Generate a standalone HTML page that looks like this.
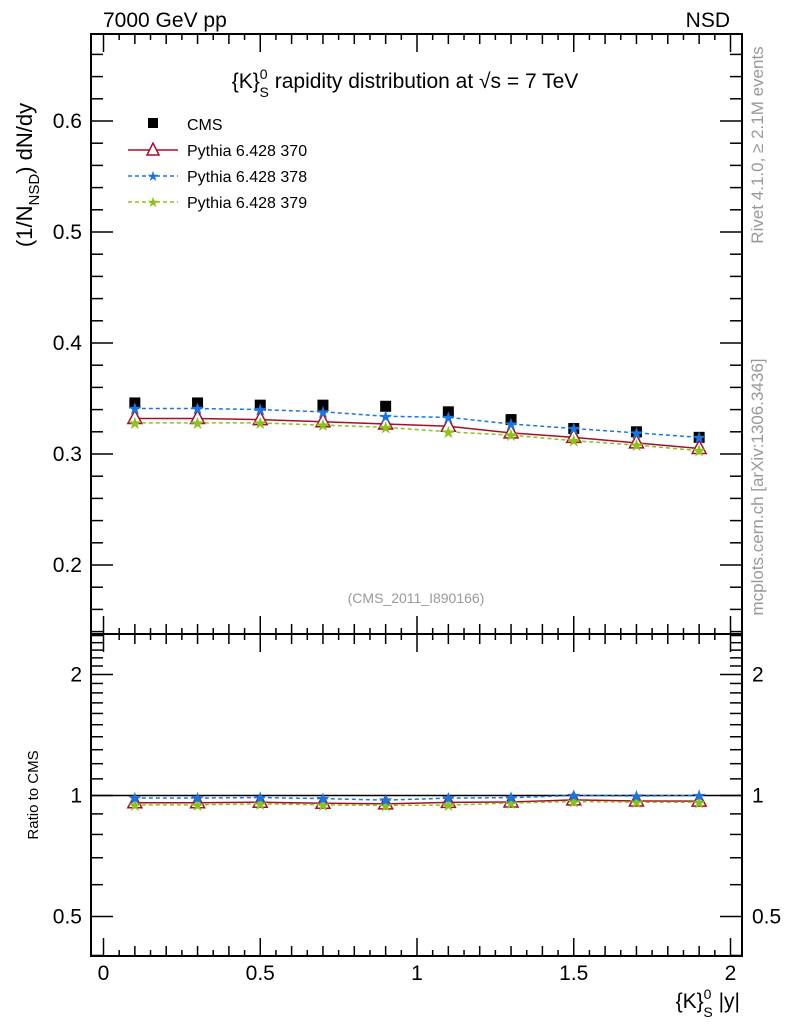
<!DOCTYPE html>
<html><head><meta charset="utf-8"><style>
body{margin:0;background:#fff;}
svg text{font-family:"Liberation Sans",sans-serif;}
</style></head><body>
<svg id="c" width="786" height="1024" xmlns="http://www.w3.org/2000/svg">
<text x="103" y="27" font-size="21">7000 GeV pp</text>
<text x="730" y="27" font-size="21" text-anchor="end">NSD</text>
<text x="405" y="88" font-size="21" text-anchor="middle">{K}<tspan font-size="14" dy="-9">0</tspan><tspan font-size="14" dx="-8" dy="18">S</tspan><tspan dy="-9"> rapidity distribution at √s = 7 TeV</tspan></text>
<text transform="translate(32,175) rotate(-90)" font-size="22" text-anchor="middle">(1/N<tspan font-size="15" dy="7">NSD</tspan><tspan dy="-7">) dN/dy</tspan></text>
<text transform="translate(38,795) rotate(-90)" font-size="15" text-anchor="middle">Ratio to CMS</text>
<text x="740" y="1008" font-size="21" text-anchor="end">{K}<tspan font-size="14" dy="-9">0</tspan><tspan font-size="14" dx="-8" dy="18">S</tspan><tspan dy="-9"> |y|</tspan></text>
<text transform="translate(763,145) rotate(-90)" font-size="17" fill="#999" text-anchor="middle">Rivet 4.1.0, ≥ 2.1M events</text>
<text transform="translate(763,487) rotate(-90)" font-size="17" fill="#999" text-anchor="middle">mcplots.cern.ch [arXiv:1306.3436]</text>
<text x="416" y="603" font-size="14" fill="#999" text-anchor="middle">(CMS_2011_I890166)</text>
<g id="legend">
<rect x="148" y="118" width="10" height="10" fill="#000"/>
<text x="187" y="130" font-size="16">CMS</text>
<line x1="128" y1="150" x2="178" y2="150" stroke="#a50f2c" stroke-width="1.5"/>
<path d="M153,143 L159,155 L147,155 Z" fill="#fff" stroke="#a50f2c" stroke-width="1.5"/>
<text x="187" y="156" font-size="16">Pythia 6.428 370</text>
<line x1="128" y1="176" x2="178" y2="176" stroke="#1a75e0" stroke-width="1.5" stroke-dasharray="4,3"/>
<text x="153" y="181" font-size="14" fill="#1a75e0" text-anchor="middle">★</text>
<text x="187" y="182" font-size="16">Pythia 6.428 378</text>
<line x1="128" y1="202" x2="178" y2="202" stroke="#8cc21a" stroke-width="1.5" stroke-dasharray="4,3"/>
<text x="153" y="207" font-size="14" fill="#8cc21a" text-anchor="middle">★</text>
<text x="187" y="208" font-size="16">Pythia 6.428 379</text>
</g>
</svg>
<script>
const xVals=[0.1,0.3,0.5,0.7,0.9,1.1,1.3,1.5,1.7,1.9];
const cms=[0.346,0.346,0.344,0.344,0.343,0.338,0.331,0.323,0.320,0.315];
const p370=[0.332,0.332,0.331,0.329,0.327,0.325,0.319,0.315,0.310,0.305];
const p378=[0.341,0.341,0.340,0.338,0.334,0.333,0.327,0.323,0.319,0.315];
const p379=[0.328,0.328,0.328,0.326,0.324,0.320,0.317,0.312,0.308,0.303];
const mainTicks=[0.2,0.3,0.4,0.5,0.6];
const mainTickLabels=["0.2","0.3","0.4","0.5","0.6"];
const ratioTicks=[0.5,1,2];
const ratioTickLabels=["0.5","1","2"];
const xTicks=[0,0.5,1,1.5,2];
const xTickLabels=["0","0.5","1","1.5","2"];

const NS="http://www.w3.org/2000/svg";
const svg=document.getElementById('c');
const L=91,R=742,T=34,M=634,B=956;
const X=v=>103.5+v*313.5;
const Y=v=>454-(v-0.3)*1110;
const YR=v=>795.5-Math.log2(v)*121;
function el(t,a,p){const e=document.createElementNS(NS,t);for(const k in a)e.setAttribute(k,a[k]);(p||svg).appendChild(e);return e;}

const f1=el('rect',{x:L,y:T,width:R-L,height:M-T,fill:'none',stroke:'#000','stroke-width':2});


const f2=el('rect',{x:L,y:M,width:R-L,height:B-M,fill:'none',stroke:'#000','stroke-width':2});



for(let i=0;i<=40;i++){const v=i*0.05;const x=X(v);if(x>R)break;const big=i%10==0;const len=big?18:(i%2==0?10:6);
 [[T,1],[M,-1],[M,1],[B,-1]].forEach(([y0,d])=>{el('line',{x1:x,y1:y0,x2:x,y2:y0+d*len,stroke:'#000','stroke-width':1.5});});}
xTicks.forEach((v,i)=>{const t=el('text',{x:X(v),y:980,'font-size':21,'text-anchor':'middle'});t.textContent=xTickLabels[i];

});

for(let i=14;i<=67;i++){const v=i/100;const y=Y(v);if(y<T||y>M)continue;const big=i%10==0;const len=big?22:(i%2==0?12:0);if(!len)continue;
 el('line',{x1:L,y1:y,x2:L+len,y2:y,stroke:'#000','stroke-width':1.5});el('line',{x1:R,y1:y,x2:R-len,y2:y,stroke:'#000','stroke-width':1.5});}
mainTicks.forEach((v,i)=>{const t=el('text',{x:82,y:Y(v)+7,'font-size':21,'text-anchor':'end'});t.textContent=mainTickLabels[i];

});

[0.4,0.5,0.6,0.7,0.8,0.9,1,1.1,1.2,1.3,1.4,1.5,1.6,1.7,1.8,1.9,2,2.1,2.2,2.3,2.4,2.5].forEach(v=>{const y=YR(v);if(y<M||y>B)return;const big=(v==0.5||v==1||v==2);const len=big?22:12;
 el('line',{x1:L,y1:y,x2:L+len,y2:y,stroke:'#000','stroke-width':1.5});el('line',{x1:R,y1:y,x2:R-len,y2:y,stroke:'#000','stroke-width':1.5});});
ratioTicks.forEach((v,i)=>{const t=el('text',{x:82,y:YR(v)+7,'font-size':21,'text-anchor':'end'});t.textContent=ratioTickLabels[i];


const t2=el('text',{x:752,y:YR(v)+7,'font-size':21});t2.textContent=ratioTickLabels[i];

});
el('line',{x1:L,y1:YR(1),x2:R,y2:YR(1),stroke:'#000','stroke-width':1.5});

function series(vals,Yf,color,dash,marker,name){
 const g=el('g',{});
 
 
 const pts=vals.map((v,i)=>X(xVals[i])+','+Yf(v)).join(' ');
 el('polyline',{points:pts,fill:'none',stroke:color,'stroke-width':1.5,'stroke-dasharray':dash||'none'},g);
 vals.forEach((v,i)=>{const x=X(xVals[i]),y=Yf(v);
  let m;
  if(marker=='tri'){m=el('path',{d:`M${x},${y-8} L${x+7},${y+5} L${x-7},${y+5} Z`,fill:'#fff',stroke:color,'stroke-width':1.5},g);}
  else{m=el('text',{x:x,y:y+6,'font-size':17,fill:color,'text-anchor':'middle'},g);m.textContent='★';}
  
  
 });
}
cms.forEach((v,i)=>{const r=el('rect',{x:X(xVals[i])-5.5,y:Y(v)-5.5,width:11,height:11,fill:'#000'});

});
series(p370,Y,'#a50f2c',null,'tri','pythia-370');
series(p379,Y,'#8cc21a','4,3','star','pythia-379');
series(p378,Y,'#1a75e0','4,3','star','pythia-378');
series(p370.map((v,i)=>v/cms[i]),YR,'#a50f2c',null,'tri','ratio-370');
series(p379.map((v,i)=>v/cms[i]),YR,'#8cc21a','4,3','star','ratio-379');
series(p378.map((v,i)=>v/cms[i]),YR,'#1a75e0','4,3','star','ratio-378');
</script>
</body></html>
